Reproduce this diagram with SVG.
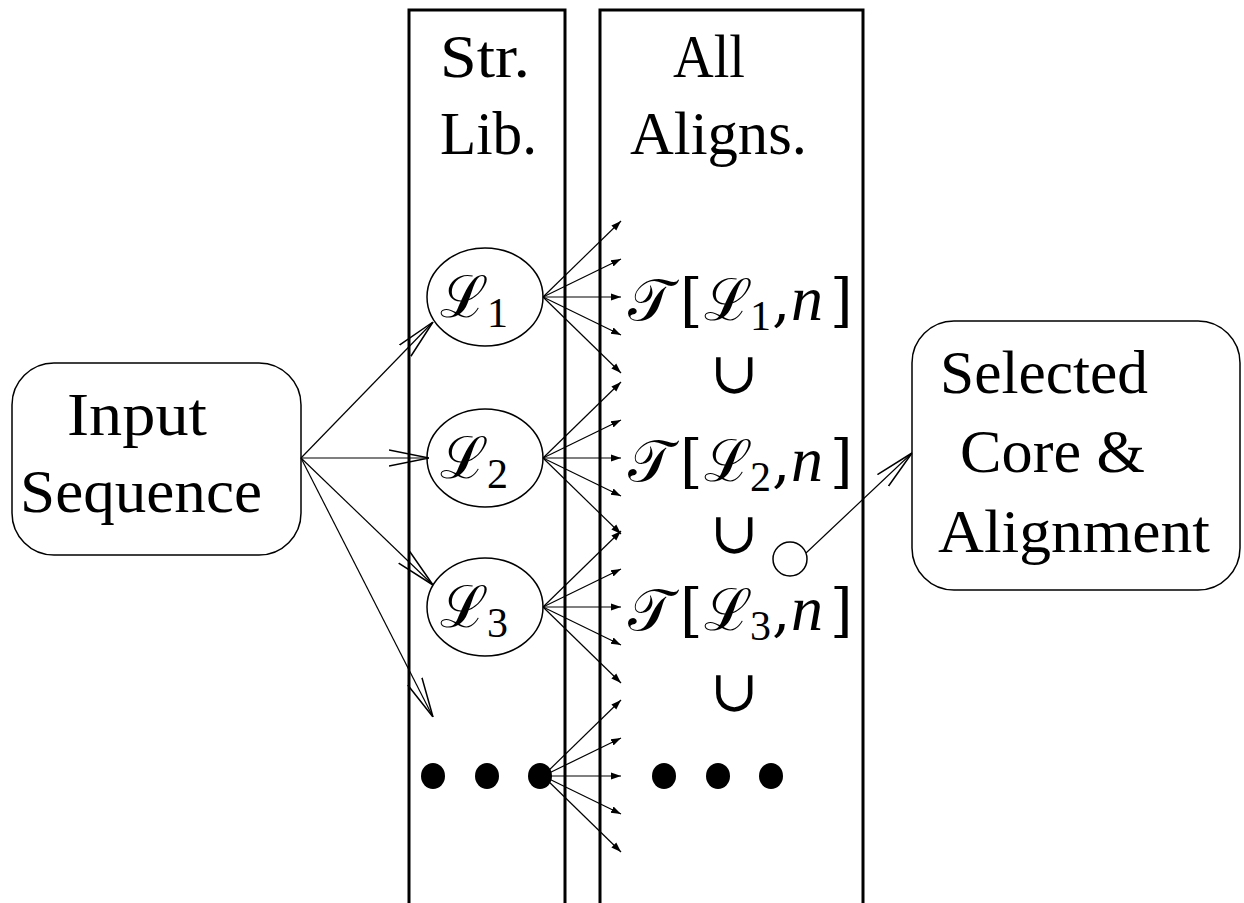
<svg xmlns="http://www.w3.org/2000/svg" width="1244" height="903" viewBox="0 0 1244 903">
<defs>
<marker id="fa" viewBox="0 0 10 10" refX="10" refY="5" markerWidth="10" markerHeight="10" markerUnits="userSpaceOnUse" orient="auto"><path d="M0,1.5 L10,5 L0,8.5 Z" fill="#000"/></marker>
<marker id="oa" viewBox="0 0 40 20" refX="40" refY="10" markerWidth="40" markerHeight="20" markerUnits="userSpaceOnUse" orient="auto"><path d="M0,2 L40,10 L0,18" fill="none" stroke="#000" stroke-width="1.5"/></marker>
</defs>
<style>
.t{font-family:"Liberation Serif","DejaVu Serif",serif;font-size:62px;fill:#000}
.m{font-family:"DejaVu Serif","Liberation Serif",serif;font-size:58px;fill:#000}
.s{font-family:"Liberation Serif","DejaVu Serif",serif;font-size:42px}
.n{font-family:"Liberation Serif","DejaVu Serif",serif;font-style:italic;font-size:64px}
.col{fill:none;stroke:#000;stroke-width:3}
.box{fill:#fff;stroke:#000;stroke-width:1.5}
.fan{stroke:#000;stroke-width:1.2;fill:none;marker-end:url(#fa)}
.in{stroke:#000;stroke-width:1.2;fill:none;marker-end:url(#oa)}
</style>
<rect width="1244" height="903" fill="#fff"/>
<g id="strlib">
<path class="col" d="M409,905 V10 H565 V905"/>
<text class="t" x="440" y="77" textLength="90" lengthAdjust="spacingAndGlyphs">Str.</text>
<text class="t" x="440" y="154" textLength="97" lengthAdjust="spacingAndGlyphs">Lib.</text>
</g>
<g id="allaligns">
<path class="col" d="M600,905 V10 H863 V905"/>
<text class="t" x="673" y="77" textLength="72" lengthAdjust="spacingAndGlyphs">All</text>
<text class="t" x="630" y="154" textLength="177" lengthAdjust="spacingAndGlyphs">Aligns.</text>
</g>
<g id="input">
<rect class="box" x="12" y="363" width="289" height="192" rx="42"/>
<text class="t" x="67" y="435" textLength="140" lengthAdjust="spacingAndGlyphs">Input</text>
<text class="t" x="20" y="512" textLength="242" lengthAdjust="spacingAndGlyphs">Sequence</text>
</g>
<g id="selected">
<rect class="box" x="912" y="321" width="328" height="269" rx="42"/>
<text class="t" x="940" y="393" textLength="208" lengthAdjust="spacingAndGlyphs">Selected</text>
<text class="t" x="960" y="472" textLength="185" lengthAdjust="spacingAndGlyphs">Core &amp;</text>
<text class="t" x="938" y="552" textLength="272" lengthAdjust="spacingAndGlyphs">Alignment</text>
</g>
<g id="L1">
<ellipse class="box" cx="485" cy="297" rx="58" ry="49"/>
<text class="m" x="440" y="317">ℒ<tspan class="s" x="487" y="327">1</tspan></text>
</g>
<g id="L2">
<ellipse class="box" cx="485" cy="458" rx="58" ry="49"/>
<text class="m" x="440" y="478">ℒ<tspan class="s" x="487" y="488">2</tspan></text>
</g>
<g id="L3">
<ellipse class="box" cx="485" cy="607" rx="58" ry="49"/>
<text class="m" x="440" y="627">ℒ<tspan class="s" x="487" y="637">3</tspan></text>
</g>
<g id="dots">
<ellipse cx="433" cy="776" rx="12" ry="13"/>
<ellipse cx="487" cy="776" rx="12" ry="13"/>
<ellipse cx="540" cy="776" rx="12" ry="13"/>
</g>
<g id="T1"><text class="m" x="628" y="320">𝒯<tspan x="680">[</tspan><tspan x="704">ℒ</tspan><tspan class="s" x="750" y="330">1</tspan><tspan x="772" y="320">,</tspan><tspan class="n" x="791">n</tspan><tspan x="830">]</tspan></text></g>
<g id="U1"><text class="m" x="710" y="393">∪</text></g>
<g id="T2"><text class="m" x="628" y="481">𝒯<tspan x="680">[</tspan><tspan x="704">ℒ</tspan><tspan class="s" x="750" y="491">2</tspan><tspan x="772" y="481">,</tspan><tspan class="n" x="791">n</tspan><tspan x="830">]</tspan></text></g>
<g id="U2"><text class="m" x="710" y="553">∪</text></g>
<g id="T3"><text class="m" x="628" y="630">𝒯<tspan x="680">[</tspan><tspan x="704">ℒ</tspan><tspan class="s" x="750" y="640">3</tspan><tspan x="772" y="630">,</tspan><tspan class="n" x="791">n</tspan><tspan x="830">]</tspan></text></g>
<g id="U3"><text class="m" x="710" y="711">∪</text></g>
<g id="dots2">
<ellipse cx="664" cy="776" rx="12" ry="13"/>
<ellipse cx="718" cy="776" rx="12" ry="13"/>
<ellipse cx="771" cy="776" rx="12" ry="13"/>
</g>
<g id="junction"><circle cx="790" cy="559" r="17" fill="#fff" stroke="#000" stroke-width="1.5"/></g>
<g id="connectors">
<line class="in" x1="301" y1="458" x2="433" y2="322"/>
<line class="in" x1="301" y1="458" x2="429" y2="458" stroke-width="2.5"/>
<line class="in" x1="301" y1="458" x2="433" y2="585"/>
<line class="in" x1="301" y1="458" x2="433" y2="717"/>
<line class="in" x1="806" y1="553" x2="912" y2="453"/>
<line class="fan" x1="543" y1="297" x2="621" y2="221"/>
<line class="fan" x1="543" y1="297" x2="621" y2="259"/>
<line class="fan" x1="543" y1="297" x2="621" y2="297" stroke-width="2.5"/>
<line class="fan" x1="543" y1="297" x2="621" y2="335"/>
<line class="fan" x1="543" y1="297" x2="621" y2="373"/>
<line class="fan" x1="543" y1="458" x2="621" y2="382"/>
<line class="fan" x1="543" y1="458" x2="621" y2="420"/>
<line class="fan" x1="543" y1="458" x2="621" y2="458" stroke-width="2.5"/>
<line class="fan" x1="543" y1="458" x2="621" y2="496"/>
<line class="fan" x1="543" y1="458" x2="621" y2="534"/>
<line class="fan" x1="543" y1="607" x2="621" y2="531"/>
<line class="fan" x1="543" y1="607" x2="621" y2="569"/>
<line class="fan" x1="543" y1="607" x2="621" y2="607" stroke-width="2.5"/>
<line class="fan" x1="543" y1="607" x2="621" y2="645"/>
<line class="fan" x1="543" y1="607" x2="621" y2="683"/>
<line class="fan" x1="543" y1="776" x2="621" y2="700"/>
<line class="fan" x1="543" y1="776" x2="621" y2="738"/>
<line class="fan" x1="543" y1="776" x2="621" y2="776" stroke-width="2.5"/>
<line class="fan" x1="543" y1="776" x2="621" y2="814"/>
<line class="fan" x1="543" y1="776" x2="621" y2="852"/>
</g>
</svg>
